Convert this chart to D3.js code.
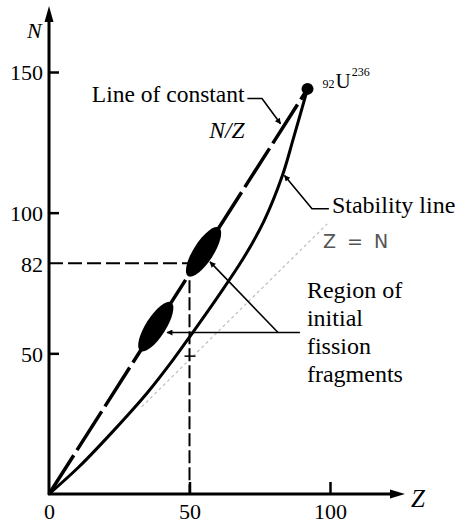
<!DOCTYPE html>
<html>
<head>
<meta charset="utf-8">
<script src="https://cdn.jsdelivr.net/npm/d3@7"></script>
<style>
  body { margin: 0; background: #fff; }
  svg { display: block; }
  text { font-family: "Liberation Serif", "DejaVu Serif", serif; fill: #000; }
  .axis text { font-size: 22px; }
  .axis line { stroke: #000; stroke-width: 2.5; }
</style>
</head>
<body>
<svg id="chart"></svg>
<script>
// values, (Z, N) pairs
const zTicks = [0, 50, 100];
const nTicks = [50, 82, 100, 150];
const stability = [[0, 0], [10.5, 9.5], [22.5, 22], [35, 36], [44, 47.5], [50.5, 56.5], [60, 70], [69, 83.5], [76.5, 97], [83, 113], [87, 126.5], [92, 144]];
const u236 = [92, 144];
const constantNZ = [[0, 0], u236];
const zEqualsN = [[33, 31], [99, 96]];
const fragments = [[32.5, 43.5], [49.5, 60.5]];   // Z extent of each blob along N/Z line
const marked = [50, 82];

const width = 459, height = 524;

const x = d3.scaleLinear().domain([0, 100]).range([49, 330]);
const y = d3.scaleLinear().domain([0, 150]).range([494, 72]);
const ratio = u236[1] / u236[0];

const svg = d3.select("#chart").attr("width", width).attr("height", height);

svg.append("defs").append("marker")
  .attr("id", "head")
  .attr("viewBox", "0 0 10 10")
  .attr("refX", 9).attr("refY", 5)
  .attr("markerWidth", 10).attr("markerHeight", 6)
  .attr("markerUnits", "userSpaceOnUse")
  .attr("orient", "auto")
  .append("path").attr("d", "M0,0L10,5L0,10z").attr("fill", "#000");

const line = d3.line().x(d => x(d[0])).y(d => y(d[1]));

// Z = N faint guide
svg.append("path")
  .attr("d", line(zEqualsN))
  .attr("fill", "none")
  .attr("stroke", "#bdbdbd")
  .attr("stroke-width", 1.2)
  .attr("stroke-dasharray", "3,3");

svg.append("line")
  .attr("x1", x(50) - 5).attr("x2", x(50) + 6)
  .attr("y1", y(49)).attr("y2", y(49))
  .attr("stroke", "#000").attr("stroke-width", 1.5);

// dashed pointers to (50, 82)
svg.append("path")
  .attr("d", line([[0, marked[1]], marked]))
  .attr("fill", "none").attr("stroke", "#000")
  .attr("stroke-width", 2).attr("stroke-dasharray", "14,5");

svg.append("path")
  .attr("d", line([marked, [marked[0], 0]]))
  .attr("fill", "none").attr("stroke", "#000")
  .attr("stroke-width", 2).attr("stroke-dasharray", "13,4");

// line of constant N/Z
svg.append("path")
  .attr("d", line(constantNZ))
  .attr("fill", "none")
  .attr("stroke", "#000")
  .attr("stroke-width", 3.5)
  .attr("stroke-dasharray", "46,6");

// stability line
svg.append("path")
  .attr("d", d3.line().x(d => x(d[0])).y(d => y(d[1])).curve(d3.curveCatmullRom)(stability))
  .attr("fill", "none")
  .attr("stroke", "#000")
  .attr("stroke-width", 3);

// fission fragment blobs
svg.append("g")
  .selectAll("ellipse")
  .data(fragments)
  .enter()
  .append("ellipse")
  .each(function (d) {
    const x0 = x(d[0]), y0 = y(d[0] * ratio), x1 = x(d[1]), y1 = y(d[1] * ratio);
    const rx = Math.hypot(x1 - x0, y1 - y0) / 2;
    const a = Math.atan2(y1 - y0, x1 - x0) * 180 / Math.PI;
    d3.select(this)
      .attr("rx", rx).attr("ry", 10)
      .attr("transform", `translate(${(x0 + x1) / 2},${(y0 + y1) / 2}) rotate(${a})`);
  })
  .attr("fill", "#000");

// U-236 point
svg.append("circle")
  .attr("cx", x(u236[0])).attr("cy", y(u236[1]))
  .attr("r", 6).attr("fill", "#000");

const uLabel = svg.append("text")
  .attr("x", x(u236[0]) + 15).attr("y", y(u236[1]));
uLabel.append("tspan").attr("font-size", 12).attr("dy", -1).text("92");
uLabel.append("tspan").attr("font-size", 21).attr("dx", 1).text("U");
uLabel.append("tspan").attr("font-size", 12).attr("dy", -12).attr("dx", 1).text("236");

// axes
const yAxis = g => g
  .attr("class", "axis")
  .attr("transform", `translate(${x(0)},0)`)
  .call(d3.axisLeft(y).tickValues(nTicks).tickSizeInner(-10).tickSizeOuter(0).tickPadding(6))
  .call(g => g.select(".domain").remove())
  .call(g => g.selectAll(".tick").filter(d => d === 82).select("line").remove())
  .call(g => g.selectAll("text").attr("dy", "0.36em"));

const xAxis = g => g
  .attr("class", "axis")
  .attr("transform", `translate(0,${y(0)})`)
  .call(d3.axisBottom(x).tickValues(zTicks).tickSizeInner(-12).tickSizeOuter(0).tickPadding(9))
  .call(g => g.select(".domain").remove())
  .call(g => g.selectAll(".tick").filter(d => d === 0).select("line").remove());

svg.append("g").call(yAxis);
svg.append("g").call(xAxis);

svg.append("line")
  .attr("x1", x(0)).attr("x2", x(0))
  .attr("y1", y(0) + 1).attr("y2", 20)
  .attr("stroke", "#000").attr("stroke-width", 3);
svg.append("path")
  .attr("d", `M${x(0) - 4.5},22L${x(0)},6L${x(0) + 4.5},22z`)
  .attr("fill", "#000");

svg.append("line")
  .attr("x1", x(0) - 1).attr("x2", 392)
  .attr("y1", y(0)).attr("y2", y(0))
  .attr("stroke", "#000").attr("stroke-width", 3);
svg.append("path")
  .attr("d", `M390,${y(0) - 4.5}L405,${y(0)}L390,${y(0) + 4.5}z`)
  .attr("fill", "#000");

svg.append("text")
  .attr("x", 27).attr("y", 38)
  .attr("font-size", 22).attr("font-style", "italic")
  .text("N");
svg.append("text")
  .attr("x", 411).attr("y", 507)
  .attr("font-size", 25).attr("font-style", "italic")
  .text("Z");

// annotations
const leader = (pts) => svg.append("path")
  .attr("d", line(pts))
  .attr("fill", "none")
  .attr("stroke", "#000")
  .attr("stroke-width", 1.6)
  .attr("marker-end", "url(#head)");

svg.append("text")
  .attr("x", x(69.6)).attr("y", y(139.4))
  .attr("text-anchor", "end").attr("font-size", 23.5)
  .text("Line of constant");
svg.append("text")
  .attr("x", x(69.6)).attr("y", y(126.6))
  .attr("text-anchor", "end").attr("font-size", 23.5).attr("font-style", "italic")
  .text("N/Z");
leader([[70.6, 140.6], [75.8, 140.6], [82.4, 131.6]]);

svg.append("text")
  .attr("x", x(100.7)).attr("y", y(99.9))
  .attr("font-size", 24)
  .text("Stability line");
leader([[99.6, 101.4], [93.6, 101.4], [83.8, 113.2]]);

svg.append("text")
  .attr("x", x(97.5)).attr("y", y(87.3))
  .style("font-family", "'DejaVu Sans', sans-serif")
  .style("font-size", "19px")
  .style("fill", "#555")
  .style("letter-spacing", "2.5px")
  .style("white-space", "pre")
  .text("Z = N");

const region = svg.append("text")
  .attr("x", x(91.8)).attr("y", y(69.7))
  .attr("font-size", 24);
["Region of", "initial", "fission", "fragments"].forEach((t, i) => {
  region.append("tspan").attr("x", x(91.8)).attr("dy", i ? 28 : 0).text(t);
});
leader([[89.3, 57.4], [42.0, 57.4]]);
leader([[81.5, 57.4], [57.3, 82.5]]);
</script>
</body>
</html>
